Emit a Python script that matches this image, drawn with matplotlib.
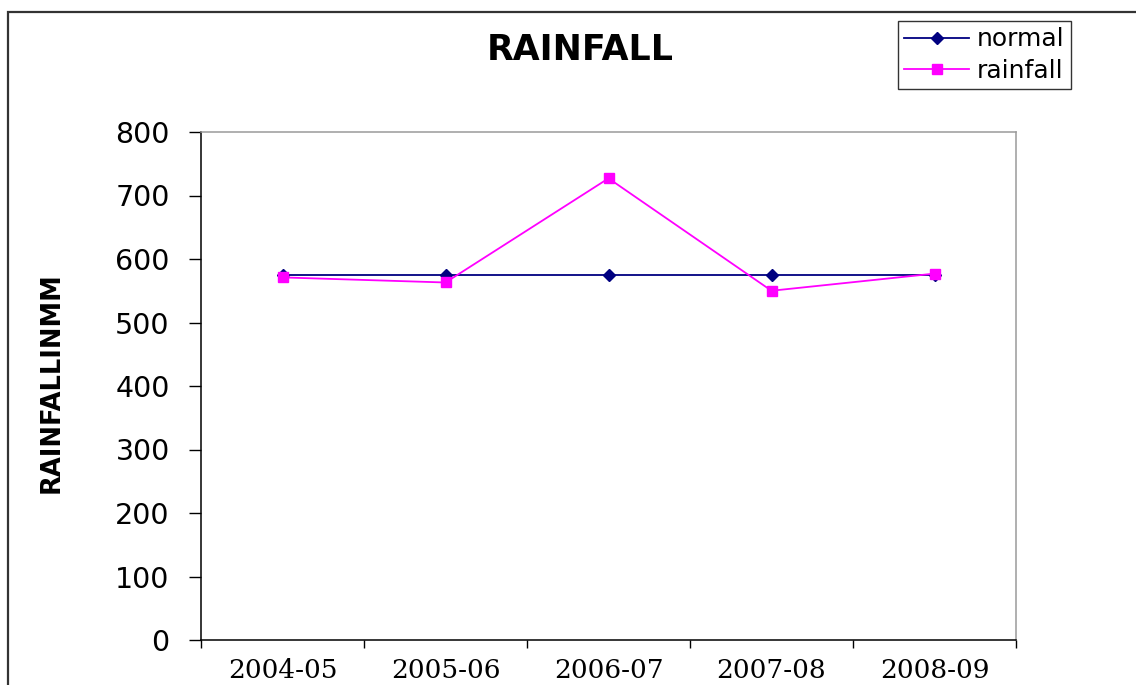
import numpy as np
import matplotlib.pyplot as plt
from matplotlib.patches import Rectangle

# data
years = ['2004-05', '2005-06', '2006-07', '2007-08', '2008-09']
normal = [575, 575, 575, 575, 575]
rainfall = [571, 563, 727, 550, 577]

fig = plt.figure(figsize=(11.36, 6.85), dpi=100)
ax = fig.add_axes([201 / 1136, 1 - 640 / 685, 815 / 1136, 508 / 685])

x = np.arange(len(years))
ax.plot(x, normal, color='#000080', lw=1.3, marker='D', ms=6.5, label='normal', zorder=3)
ax.plot(x, rainfall, color='#FF00FF', lw=1.3, marker='s', ms=6.5, label='rainfall', zorder=4)

ax.set_xlim(-0.5, len(years) - 0.5)
ax.set_ylim(0, 800)
ax.set_yticks(np.arange(0, 801, 100))

# category boundaries as tick marks, labels centred between them
ax.set_xticks(np.arange(-0.5, len(years), 1.0))
ax.set_xticklabels([])
ax.set_xticks(x, minor=True)
ax.set_xticklabels(years, minor=True, family='DejaVu Serif', fontsize=19)
ax.tick_params(axis='x', which='major', direction='out', length=5.5, width=1, color='black')
ax.tick_params(axis='x', which='minor', length=0, pad=13)
ax.tick_params(axis='y', direction='out', length=8.5, width=1, pad=14, labelsize=20.5)

for s in ['left', 'bottom']:
    ax.spines[s].set_color('black')
    ax.spines[s].set_linewidth(1.1)
for s in ['top', 'right']:
    ax.spines[s].set_color('#9a9a9a')
    ax.spines[s].set_linewidth(1.1)

fig.text(580 / 1136, 1 - 50 / 685, 'RAINFALL', ha='center', va='center',
         fontsize=25, fontweight='bold')
fig.text(52 / 1136, 1 - 383 / 685, 'RAINFALLINMM', ha='center', va='center',
         rotation=90, fontsize=18.5, fontweight='bold')

leg = fig.legend(loc='upper left', bbox_to_anchor=(898 / 1136, 1 - 21 / 685),
                 fontsize=18, frameon=True, fancybox=False, edgecolor='black',
                 handlelength=2.6, handletextpad=0.3, borderpad=0.25,
                 labelspacing=0.3, borderaxespad=0)
leg.get_frame().set_linewidth(1.0)

# outer chart frame (cut off at right and bottom)
fig.patches.append(Rectangle((8 / 1136, -0.2), 1.5, 1.2 - 12 / 685,
                             transform=fig.transFigure, fill=False,
                             edgecolor='#333333', lw=1.6, clip_on=False))

fig.savefig('out.png', dpi=100)
